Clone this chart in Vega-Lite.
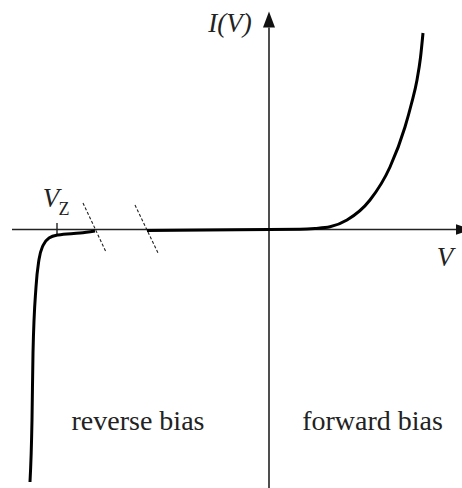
{
  "$schema": "https://vega.github.io/schema/vega-lite/v6.json",
  "width": 462,
  "height": 488,
  "padding": 0,
  "autosize": {"type": "none"},
  "background": "white",
  "config": {"view": {"stroke": null}, "font": "Liberation Serif"},
  "layer": [
    {
      "description": "Horizontal (V) and vertical (I) axes",
      "data": {"values": [
        {"x": -25.7, "y": 0, "x2": 18.7, "y2": 0},
        {"x": 0, "y": -25.85, "x2": 0, "y2": 20.2}
      ]},
      "mark": {"type": "rule", "color": "#222", "strokeWidth": 1.6},
      "encoding": {
        "x": {"field": "x", "type": "quantitative", "scale": {"domain": [-26.9, 19.3], "nice": false, "zero": false}, "axis": null},
        "y": {"field": "y", "type": "quantitative", "scale": {"domain": [-25.85, 22.95], "nice": false, "zero": false}, "axis": null},
        "x2": {"field": "x2"},
        "y2": {"field": "y2"}
      }
    },
    {
      "description": "Arrowhead on the current axis",
      "data": {"values": [{"x": 0, "y": 21.0}]},
      "mark": {"type": "point", "shape": "M0,-1L0.75,1L-0.75,1Z", "size": 256, "filled": true, "color": "#111", "opacity": 1},
      "encoding": {
        "x": {"field": "x", "type": "quantitative", "scale": {"domain": [-26.9, 19.3], "nice": false, "zero": false}, "axis": null},
        "y": {"field": "y", "type": "quantitative", "scale": {"domain": [-25.85, 22.95], "nice": false, "zero": false}, "axis": null}
      }
    },
    {
      "description": "Arrowhead on the voltage axis",
      "data": {"values": [{"x": 19.5, "y": 0}]},
      "mark": {"type": "point", "shape": "M1,0L-1,0.65L-1,-0.65Z", "size": 256, "filled": true, "color": "#111", "opacity": 1},
      "encoding": {
        "x": {"field": "x", "type": "quantitative", "scale": {"domain": [-26.9, 19.3], "nice": false, "zero": false}, "axis": null},
        "y": {"field": "y", "type": "quantitative", "scale": {"domain": [-25.85, 22.95], "nice": false, "zero": false}, "axis": null}
      }
    },
    {
      "description": "Dashed marks showing the broken voltage axis",
      "data": {"values": [
        {"x": -18.6, "y": 2.65, "x2": -16.3, "y2": -2.25},
        {"x": -13.4, "y": 2.45, "x2": -11.1, "y2": -2.35}
      ]},
      "mark": {"type": "rule", "color": "#222", "strokeWidth": 1.1, "strokeDash": [3, 2]},
      "encoding": {
        "x": {"field": "x", "type": "quantitative", "scale": {"domain": [-26.9, 19.3], "nice": false, "zero": false}, "axis": null},
        "y": {"field": "y", "type": "quantitative", "scale": {"domain": [-25.85, 22.95], "nice": false, "zero": false}, "axis": null},
        "x2": {"field": "x2"},
        "y2": {"field": "y2"}
      }
    },
    {
      "description": "Tick at the Zener voltage",
      "data": {"values": [{"x": -21.2, "y": 0.65, "y2": -0.55}]},
      "mark": {"type": "rule", "color": "#222", "strokeWidth": 1.4},
      "encoding": {
        "x": {"field": "x", "type": "quantitative", "scale": {"domain": [-26.9, 19.3], "nice": false, "zero": false}, "axis": null},
        "y": {"field": "y", "type": "quantitative", "scale": {"domain": [-25.85, 22.95], "nice": false, "zero": false}, "axis": null},
        "y2": {"field": "y2"}
      }
    },
    {
      "description": "Diode current-voltage curve: breakdown branch and forward branch",
      "data": {"values": [
        {"seg": "breakdown", "v": -23.9, "i": -25.25},
        {"seg": "breakdown", "v": -23.7, "i": -19.05},
        {"seg": "breakdown", "v": -23.6, "i": -12.35},
        {"seg": "breakdown", "v": -23.3, "i": -5.75},
        {"seg": "breakdown", "v": -23.0, "i": -3.0},
        {"seg": "breakdown", "v": -22.6, "i": -1.6},
        {"seg": "breakdown", "v": -22.0, "i": -0.85},
        {"seg": "breakdown", "v": -21.1, "i": -0.55},
        {"seg": "breakdown", "v": -18.9, "i": -0.35},
        {"seg": "breakdown", "v": -17.4, "i": -0.15},
        {"seg": "forward", "v": -12.2, "i": -0.1},
        {"seg": "forward", "v": 0, "i": 0},
        {"seg": "forward", "v": 3.1, "i": 0.02},
        {"seg": "forward", "v": 4.6, "i": 0.1},
        {"seg": "forward", "v": 6.1, "i": 0.27},
        {"seg": "forward", "v": 7.8, "i": 0.95},
        {"seg": "forward", "v": 10.1, "i": 2.95},
        {"seg": "forward", "v": 12.1, "i": 6.25},
        {"seg": "forward", "v": 13.6, "i": 10.25},
        {"seg": "forward", "v": 14.25, "i": 12.6},
        {"seg": "forward", "v": 14.8, "i": 14.95},
        {"seg": "forward", "v": 15.15, "i": 17.2},
        {"seg": "forward", "v": 15.4, "i": 19.65}
      ]},
      "mark": {"type": "line", "color": "black", "strokeWidth": 3, "interpolate": "monotone", "strokeCap": "butt"},
      "encoding": {
        "x": {"field": "v", "type": "quantitative", "scale": {"domain": [-26.9, 19.3], "nice": false, "zero": false}, "axis": null},
        "y": {"field": "i", "type": "quantitative", "scale": {"domain": [-25.85, 22.95], "nice": false, "zero": false}, "axis": null},
        "detail": {"field": "seg", "type": "nominal"}
      }
    },
    {
      "description": "Italic axis names and the Zener voltage symbol",
      "data": {"values": [
        {"x": -3.9, "y": 19.75, "label": "I(V)", "a": "center"},
        {"x": 17.6, "y": -3.65, "label": "V", "a": "left"},
        {"x": -21.8, "y": 2.25, "label": "V", "a": "left"}
      ]},
      "mark": {"type": "text", "font": "Liberation Serif", "fontStyle": "italic", "fontSize": 27, "color": "#222", "baseline": "alphabetic"},
      "encoding": {
        "x": {"field": "x", "type": "quantitative", "scale": {"domain": [-26.9, 19.3], "nice": false, "zero": false}, "axis": null},
        "y": {"field": "y", "type": "quantitative", "scale": {"domain": [-25.85, 22.95], "nice": false, "zero": false}, "axis": null},
        "text": {"field": "label"},
        "align": {"field": "a", "type": "nominal", "scale": null}
      }
    },
    {
      "description": "Zener subscript and region labels",
      "data": {"values": [
        {"x": -20.5, "y": 1.5, "label": "Z", "size": 18, "a": "left"},
        {"x": -13.1, "y": -20.05, "label": "reverse bias", "size": 28, "a": "center"},
        {"x": 10.35, "y": -20.05, "label": "forward bias", "size": 28, "a": "center"}
      ]},
      "mark": {"type": "text", "font": "Liberation Serif", "color": "#222", "baseline": "alphabetic"},
      "encoding": {
        "x": {"field": "x", "type": "quantitative", "scale": {"domain": [-26.9, 19.3], "nice": false, "zero": false}, "axis": null},
        "y": {"field": "y", "type": "quantitative", "scale": {"domain": [-25.85, 22.95], "nice": false, "zero": false}, "axis": null},
        "text": {"field": "label"},
        "size": {"field": "size", "type": "quantitative", "scale": null},
        "align": {"field": "a", "type": "nominal", "scale": null}
      }
    }
  ]
}
